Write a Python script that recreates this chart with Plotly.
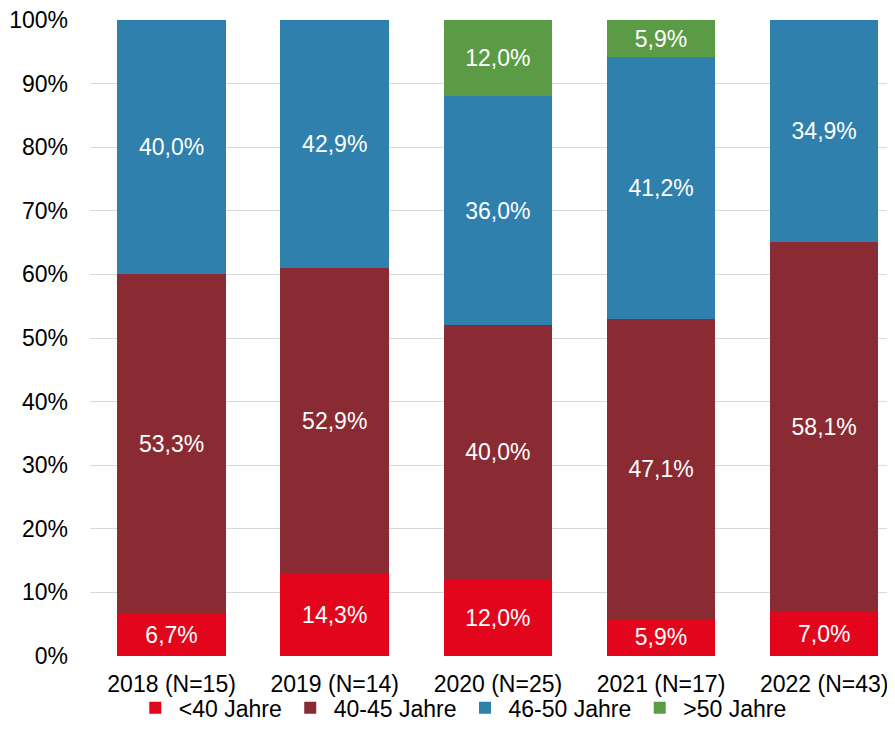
import plotly.graph_objects as go

categories = ["2018 (N=15)", "2019 (N=14)", "2020 (N=25)", "2021 (N=17)", "2022 (N=43)"]
series_names = ["<40 Jahre", "40-45 Jahre", "46-50 Jahre", ">50 Jahre"]
under40 = [6.7, 14.3, 12.0, 5.9, 7.0]
age40_45 = [53.3, 52.9, 40.0, 47.1, 58.1]
age46_50 = [40.0, 42.9, 36.0, 41.2, 34.9]
over50 = [0.0, 0.0, 12.0, 5.9, 0.0]
colors = ["#E2051B", "#8A2A32", "#2F80AC", "#5C9B46"]
y_ticks = [0, 10, 20, 30, 40, 50, 60, 70, 80, 90, 100]

FONT = "Liberation Sans, Arial, sans-serif"
FS = 23

def fmt(v):
    return ("%.1f%%" % v).replace(".", ",") if v > 0 else ""

fig = go.Figure()
for name, vals, col in zip(series_names, [under40, age40_45, age46_50, over50], colors):
    fig.add_trace(go.Bar(
        name=name, x=list(range(len(categories))), y=vals,
        marker=dict(color=col, line=dict(width=0)),
        text=[fmt(v) for v in vals], texttemplate="%{text}",
        textposition="inside", insidetextanchor="middle",
        textfont=dict(family=FONT, size=FS, color="white"),
        textangle=0, width=0.665, hoverinfo="skip",
    ))

# page body has an 8px margin, so the figure is sized to fit the 895x747 window
fig.update_layout(
    barmode="stack", barnorm="percent",
    width=887, height=739,
    margin=dict(l=82, r=0, t=12, b=91),
    paper_bgcolor="white", plot_bgcolor="white",
    font=dict(family=FONT, size=FS, color="#000000"),
    showlegend=True,
    legend=dict(orientation="h", x=0.0519, xanchor="left", y=-0.0815, yanchor="middle",
                bgcolor="rgba(0,0,0,0)",
                font=dict(family=FONT, size=FS, color="#000000"),
                itemwidth=37, tracegroupgap=0, traceorder="normal"),
    xaxis=dict(tickmode="array", tickvals=list(range(len(categories))), ticktext=categories,
               range=[-0.5, 4.434], showgrid=False, zeroline=False, showline=False,
               ticks="", ticklabelstandoff=12, automargin=False,
               tickfont=dict(family=FONT, size=FS, color="#000000")),
    yaxis=dict(range=[0, 100], tickmode="array", tickvals=y_ticks,
               ticktext=["%d%%" % t for t in y_ticks],
               showgrid=True, gridcolor="#D9D9D9", gridwidth=1.3,
               zeroline=False, showline=False, ticks="", ticklabelstandoff=21,
               ticklabeloverflow="allow", automargin=False,
               tickfont=dict(family=FONT, size=FS, color="#000000")),
)

fig.write_html("out.html")
